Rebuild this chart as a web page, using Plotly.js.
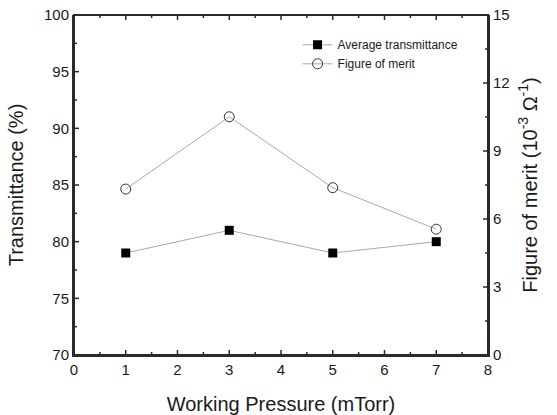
<!DOCTYPE html>
<html><head><meta charset="utf-8">
<script src="https://cdn.plot.ly/plotly-3.0.1.min.js"></script>
<style>body{margin:0;background:#fff}#c{width:557px;height:415px}</style>
</head><body><div id="c"></div>
<script>
const pressure = [1, 3, 5, 7];
const transmittance = [79, 81, 79, 80];
const figureOfMerit = [7.32, 10.51, 7.38, 5.55];
const xTicks = [0, 1, 2, 3, 4, 5, 6, 7, 8];
const yTicks = [70, 75, 80, 85, 90, 95, 100];
const y2Ticks = [0, 3, 6, 9, 12, 15];

const fam = 'Liberation Sans, Arial, sans-serif';
const txt = '#1a1a1a';
const ax = '#2a2a2a';

function mids(a) { const m = []; for (let i = 0; i < a.length - 1; i++) m.push((a[i] + a[i + 1]) / 2); return m; }
const tickLine = {color: ax, width: 1.5};
const shapes = [{type: 'rect', xref: 'paper', yref: 'paper', x0: 0, x1: 1, y0: 0, y1: 1,
                 line: {color: ax, width: 2}, fillcolor: 'rgba(0,0,0,0)', layer: 'above'}];
function xt(vals, len) {
  vals.forEach(v => {
    shapes.push({type: 'line', xref: 'x', yref: 'paper', x0: v, x1: v, y0: 0, y1: len / 340, line: tickLine, layer: 'above'});
    shapes.push({type: 'line', xref: 'x', yref: 'paper', x0: v, x1: v, y0: 1, y1: 1 - len / 340, line: tickLine, layer: 'above'});
  });
}
function yt(vals, len, ref, side) {
  vals.forEach(v => {
    const x0 = side === 'left' ? 0 : 1, x1 = side === 'left' ? len / 414 : 1 - len / 414;
    shapes.push({type: 'line', xref: 'paper', yref: ref, x0: x0, x1: x1, y0: v, y1: v, line: tickLine, layer: 'above'});
  });
}
xt(xTicks, 5); xt(mids(xTicks), 3);
yt(yTicks, 5, 'y', 'left'); yt(mids(yTicks), 3, 'y', 'left');
yt(y2Ticks, 5, 'y2', 'right'); yt(mids(y2Ticks), 3, 'y2', 'right');

const traces = [
  {x: pressure, y: transmittance, name: 'Average transmittance', type: 'scatter', mode: 'lines+markers',
   line: {color: '#aaaaaa', width: 1}, marker: {symbol: 'square', size: 9, color: 'black'}},
  {x: pressure, y: figureOfMerit, name: 'Figure of merit', type: 'scatter', mode: 'lines+markers', yaxis: 'y2',
   line: {color: '#aaaaaa', width: 1}, marker: {symbol: 'circle-open', size: 10, color: '#333333', line: {width: 1}}}
];
const layout = {
  width: 557, height: 415,
  margin: {l: 74, r: 69, t: 15, b: 60},
  font: {family: fam, color: txt},
  shapes: shapes,
  legend: {x: 0.54, y: 0.955, xanchor: 'left', yanchor: 'top', bgcolor: 'rgba(0,0,0,0)',
           font: {family: fam, size: 12, color: txt}},
  xaxis: {range: [0, 8], tickmode: 'array', tickvals: xTicks, ticktext: xTicks.map(String),
          showline: true, linecolor: ax, linewidth: 2, ticks: '', showgrid: false, zeroline: false,
          tickfont: {family: fam, size: 15, color: txt},
          title: {text: 'Working Pressure (mTorr)', font: {family: fam, size: 20, color: txt}}},
  yaxis: {range: [70, 100], tickmode: 'array', tickvals: yTicks, ticktext: yTicks.map(String),
          showline: true, linecolor: ax, linewidth: 2, ticks: '', showgrid: false, zeroline: false,
          tickfont: {family: fam, size: 15, color: txt},
          title: {text: 'Transmittance (%)', font: {family: fam, size: 20, color: txt}}},
  yaxis2: {overlaying: 'y', side: 'right', range: [0, 15], tickmode: 'array', tickvals: y2Ticks, ticktext: y2Ticks.map(String),
           showline: true, linecolor: ax, linewidth: 2, ticks: '', showgrid: false, zeroline: false,
           tickfont: {family: fam, size: 15, color: txt},
           title: {text: 'Figure of merit (10<sup>-3</sup> Ω<sup>-1</sup>)', font: {family: fam, size: 20, color: txt}, standoff: 14}}
};
Plotly.newPlot('c', traces, layout, {displayModeBar: false});
</script></body></html>
